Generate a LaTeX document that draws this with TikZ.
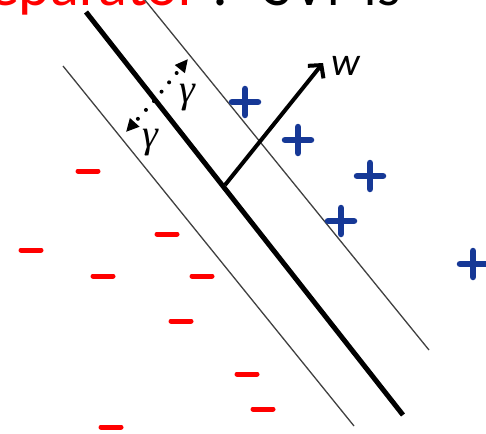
\documentclass[tikz,border=0pt]{standalone}
\usepackage{fontspec}
\setmainfont{Carlito}
\newfontfamily\greekfont{Liberation Serif}
\usetikzlibrary{arrows.meta}
\definecolor{plusblue}{RGB}{22,56,150}
\definecolor{minusred}{RGB}{255,0,0}
\begin{document}
\begin{tikzpicture}[x=1pt, y=-1pt,
    plus/.style={plusblue, line width=6.5pt, line cap=round},
    minus/.style={minusred, line width=5pt, line cap=round},
    margin/.style={line width=1.3pt, black!75},
    gapdots/.style={line width=4pt, line cap=round, dash pattern=on 0pt off 12pt},
    gammalabel/.style={font=\fontsize{40}{40}\greekfont\itshape, inner sep=0pt}]
  \def\P{13}
  \def\M{10}
  \useasboundingbox (0,0) rectangle (486,433);
  \clip (0,0) rectangle (486,433);
  % title, cut off by the top edge
  \node[anchor=base east, inner sep=0pt, font=\fontsize{60}{60}\selectfont]
    (title) at (401,6)
    {\textcolor{red}{Linear Separator} :\hspace{18pt} SVMs};
  % separator and the two margins
  \draw[line width=5pt] (86,12) -- (403,415);
  \draw[margin] (140,-6) -- (429,350);
  \draw[margin] (63,66) -- (354,426);
  % normal vector w
  \coordinate (foot) at (225,185);
  \coordinate (wtip) at (323,63);
  \draw[line width=4pt, -{Straight Barb[length=9pt, width=20pt]}] (foot) -- (wtip);
  \node[font=\fontsize{40}{40}\selectfont\itshape] (w) at (346,66) {w};
  % margin widths
  \coordinate (gmid) at (154,101);
  \coordinate (gup) at (188,59);
  \coordinate (gdown) at (126,132);
  \draw[gapdots, -{Triangle[length=13pt, width=12pt]}] (gmid) -- (gup);
  \draw[gapdots, -{Triangle[length=13pt, width=12pt]}] (gmid) -- (gdown);
  \node[gammalabel] (gammaup) at (187,98) {γ};
  \node[gammalabel] (gammadown) at (150,143) {γ};
  % positive examples
  \foreach \x/\y in {245/102, 298/140, 370/176, 341/221, 473/264}
    \draw[plus] (\x-\P,\y) -- (\x+\P,\y) (\x,\y-\P) -- (\x,\y+\P);
  % negative examples
  \foreach \x/\y in {88/171, 167/234, 31/250, 103/276, 202/276,
                     181/321, 247/374, 263/409, 111/427}
    \draw[minus] (\x-\M,\y) -- (\x+\M,\y);
\end{tikzpicture}
\end{document}
